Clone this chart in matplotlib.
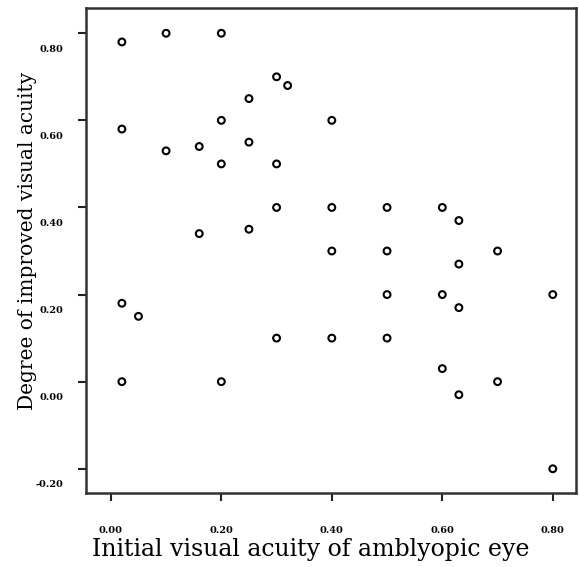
import numpy as np
import matplotlib
matplotlib.use('Agg')
import matplotlib.pyplot as plt
import matplotlib.transforms as mtransforms

# initial acuity vs improvement
initial_acuity = [0.02, 0.10, 0.20, 0.30, 0.32, 0.25, 0.20, 0.40, 0.02, 0.10,
                  0.16, 0.25, 0.20, 0.30, 0.30, 0.40, 0.50, 0.60, 0.63, 0.16,
                  0.25, 0.40, 0.50, 0.70, 0.63, 0.02, 0.05, 0.50, 0.60, 0.63,
                  0.80, 0.30, 0.40, 0.50, 0.60, 0.02, 0.20, 0.70, 0.63, 0.80]
improvement = [0.78, 0.80, 0.80, 0.70, 0.68, 0.65, 0.60, 0.60, 0.58, 0.53,
               0.54, 0.55, 0.50, 0.50, 0.40, 0.40, 0.40, 0.40, 0.37, 0.34,
               0.35, 0.30, 0.30, 0.30, 0.27, 0.18, 0.15, 0.20, 0.20, 0.17,
               0.20, 0.10, 0.10, 0.10, 0.03, 0.00, 0.00, 0.00, -0.03, -0.20]

x_ticks = [0.0, 0.2, 0.4, 0.6, 0.8]
y_ticks = [-0.2, 0.0, 0.2, 0.4, 0.6, 0.8]

serif = 'DejaVu Serif'

fig = plt.figure(figsize=(5.79, 5.67), dpi=100)
ax = fig.add_axes([0.1485, 0.131, 0.8463, 0.8549])

ax.scatter(initial_acuity, improvement, s=24, facecolors='none',
           edgecolors='black', linewidths=1.5, zorder=3)

ax.set_xlim(-0.045, 0.842)
ax.set_ylim(-0.255, 0.858)

ax.set_xticks(x_ticks)
ax.set_yticks(y_ticks)
ax.set_xticklabels(['%.2f' % v for v in x_ticks], fontfamily=serif,
                   fontweight='bold', fontsize=7)
ax.set_yticklabels(['%.2f' % v for v in y_ticks], fontfamily=serif,
                   fontweight='bold', fontsize=7)
ax.tick_params(axis='x', direction='out', length=6, width=1.5, pad=18,
               color='#222222')
ax.tick_params(axis='y', direction='out', length=6, width=1.5, pad=10,
               color='#222222')

# tick labels on the y axis sit a little below their ticks
shift = mtransforms.ScaledTranslation(0, -0.15, fig.dpi_scale_trans)
for lab in ax.get_yticklabels():
    lab.set_transform(lab.get_transform() + shift)

for sp in ax.spines.values():
    sp.set_linewidth(1.8)
    sp.set_color('#333333')

ax.set_xlabel('Initial visual acuity of amblyopic eye', fontfamily=serif,
              fontsize=17)
ax.set_ylabel('Degree of improved visual acuity', fontfamily=serif,
              fontsize=14.5)
ax.xaxis.set_label_coords(0.459, -0.094)
ax.yaxis.set_label_coords(-0.10, 0.52)

fig.savefig('out.png', dpi=100)
